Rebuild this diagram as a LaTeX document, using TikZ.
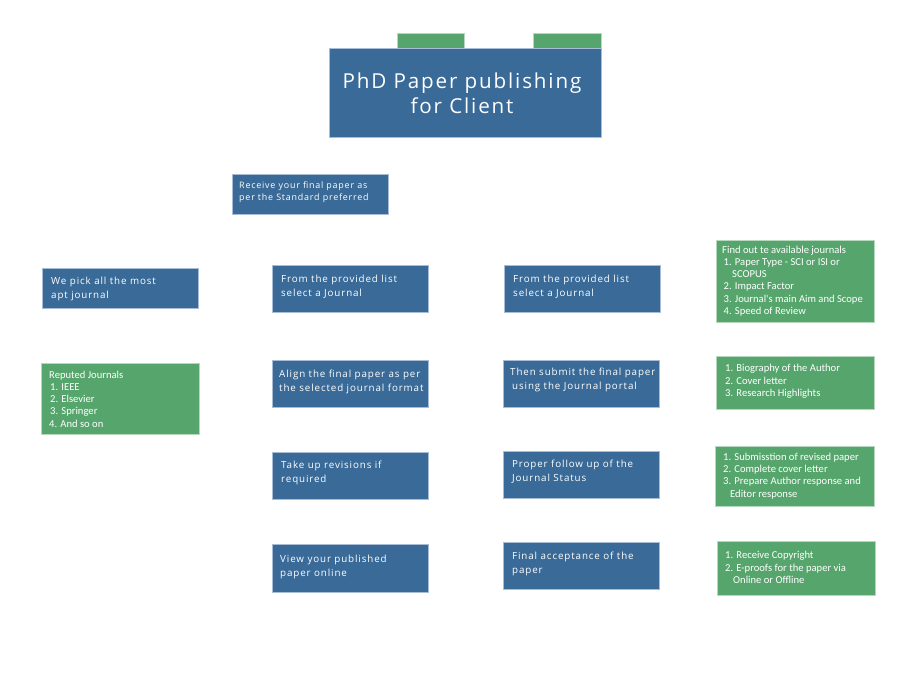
\documentclass[tikz,border=0pt]{standalone}
\usepackage{fontspec}
\setmainfont{Open Sans}
\newfontfamily\bluefont[LetterSpace=9]{Open Sans}
\newfontfamily\titlefont[LetterSpace=9]{Open Sans}
\newfontfamily\greenfont{Carlito}
\definecolor{boxblue}{HTML}{396A98}
\definecolor{boxgreen}{HTML}{56A56C}
\definecolor{blueedge}{HTML}{A8BCD6}
\definecolor{greenedge}{HTML}{B5D8BE}
\tikzset{
  bluebox/.style={draw=blueedge, line width=0.7pt, fill=boxblue},
  greenbox/.style={draw=greenedge, line width=0.7pt, fill=boxgreen},
  bluetext/.style={text=white, anchor=west, align=left, inner sep=0pt,
    font={\bluefont\fontsize{9.8}{14}\selectfont}},
  smalltext/.style={text=white, anchor=west, align=left, inner sep=0pt,
    font={\bluefont\fontsize{8.9}{12}\selectfont}},
  greentext/.style={text=white, anchor=west, align=left, inner sep=0pt,
    font={\greenfont\fontsize{10.6}{12.3}\selectfont}},
  titletext/.style={text=white, anchor=center, align=center, inner sep=0pt,
    font={\titlefont\fontsize{20.6}{25}\selectfont}},
}
\begin{document}
\begin{tikzpicture}[x=1pt,y=-1pt]
\useasboundingbox (0,0) rectangle (900,700);
% title with tabs
\path[greenbox] (397,33) rectangle (464,49) node[coordinate] (tabA) {};
\path[greenbox] (533,33) rectangle (601,49) node[coordinate] (tabB) {};
\path[bluebox] (329,48) rectangle (601,137) node[coordinate] (titlebox) {};
\node[titletext] (title) at (462,93.5) {PhD Paper publishing\\for Client};
% receive
\path[bluebox] (232,174) rectangle (388,214) node[coordinate] (recbox) {};
\node[smalltext] (rec) at (239,192) {Receive your final paper as\\per the Standard preferred};
% left column
\path[bluebox] (42,268) rectangle (198,308) node[coordinate] (pickbox) {};
\node[bluetext] (pick) at (51,289) {We pick all the most\\apt journal};
\path[greenbox] (41,363) rectangle (199,434) node[coordinate] (repbox) {};
\node[greentext] (rep) at (49,399) {Reputed Journals\\\hspace*{1pt}1. IEEE\\\hspace*{1pt}2. Elsevier\\\hspace*{1pt}3. Springer\\4. And so on};
% column 1
\path[bluebox] (272,265) rectangle (428,312) node[coordinate] (c1abox) {};
\node[bluetext] (c1a) at (281,287) {From the provided list\\select a Journal};
\path[bluebox] (272,360) rectangle (428,407) node[coordinate] (c1bbox) {};
\node[bluetext] (c1b) at (279,382) {Align the final paper as per\\the selected journal format};
\path[bluebox] (272,452) rectangle (428,499) node[coordinate] (c1cbox) {};
\node[bluetext] (c1c) at (281,473) {Take up revisions if\\required};
\path[bluebox] (272,544) rectangle (428,592) node[coordinate] (c1dbox) {};
\node[bluetext] (c1d) at (280,567) {View your published\\paper online};
% column 2
\path[bluebox] (504,265) rectangle (660,312) node[coordinate] (c2abox) {};
\node[bluetext] (c2a) at (513,287) {From the provided list\\select a Journal};
\path[bluebox] (503,360) rectangle (659,407) node[coordinate] (c2bbox) {};
\node[bluetext] (c2b) at (510,380) {Then submit the final paper\\\hspace*{2pt}using the Journal portal};
\path[bluebox] (503,451) rectangle (659,498) node[coordinate] (c2cbox) {};
\node[bluetext] (c2c) at (512,472) {Proper follow up of the\\Journal Status};
\path[bluebox] (503,542) rectangle (659,589) node[coordinate] (c2dbox) {};
\node[bluetext] (c2d) at (512,564) {Final acceptance of the\\paper};
% right green column
\path[greenbox] (716,240) rectangle (874,322) node[coordinate] (g1box) {};
\node[greentext] (g1) at (722,281) {Find out te available journals\\\hspace*{1.5pt}1. Paper Type - SCI or ISI or\\\hspace*{10pt}SCOPUS\\\hspace*{1.5pt}2. Impact Factor\\\hspace*{1.5pt}3. Journal's main Aim and Scope\\\hspace*{1.5pt}4. Speed of Review};
\path[greenbox] (716,356) rectangle (874,409) node[coordinate] (g2box) {};
\node[greentext] (g2) at (725,381.5) {1. Biography of the Author\\2. Cover letter\\3. Research Highlights};
\path[greenbox] (715,446) rectangle (874,506) node[coordinate] (g3box) {};
\node[greentext] (g3) at (723,476) {1. Submisstion of revised paper\\2. Complete cover letter\\3. Prepare Author response and\\\hspace*{7pt}Editor response};
\path[greenbox] (717,541) rectangle (875,595) node[coordinate] (g4box) {};
\node[greentext] (g4) at (725,567.5) {1. Receive Copyright\\2. E-proofs for the paper via\\\hspace*{8pt}Online or Offline};
\end{tikzpicture}
\end{document}
